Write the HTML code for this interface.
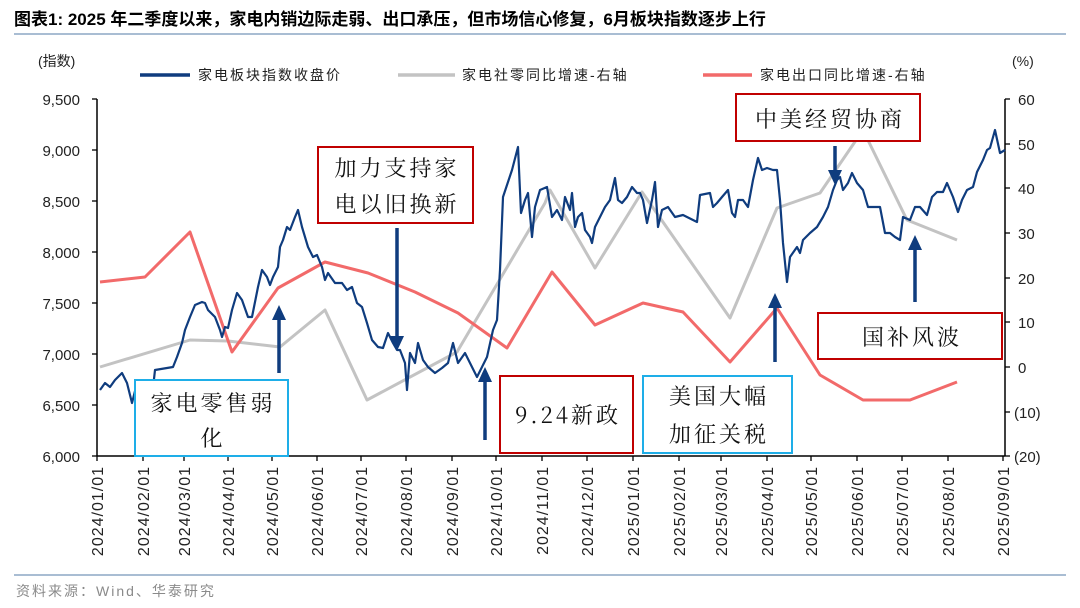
<!DOCTYPE html>
<html><head><meta charset="utf-8"><style>
body{margin:0;background:#fff;}
svg{display:block;font-family:"Liberation Sans","Noto Sans CJK SC",sans-serif;}
.s{font-family:"Noto Serif CJK SC","Noto Sans CJK SC",serif;}
</style></head><body>
<svg width="1080" height="608" viewBox="0 0 1080 608" xmlns="http://www.w3.org/2000/svg">
<text x="14" y="25" font-size="17" font-weight="bold" fill="#000">图表1:  2025 年二季度以来，家电内销边际走弱、出口承压，但市场信心修复，6月板块指数逐步上行</text>
<line x1="14" y1="34" x2="1066" y2="34" stroke="#a9bdd3" stroke-width="2"/>
<text x="38" y="66" font-size="14" fill="#222">(指数)</text>
<text x="1012" y="66" font-size="14" fill="#222">(%)</text>
<line x1="140" y1="75" x2="190" y2="75" stroke="#0f3c7e" stroke-width="3.5"/>
<text x="198" y="80" font-size="14" fill="#222" letter-spacing="2">家电板块指数收盘价</text>
<line x1="398" y1="75" x2="455" y2="75" stroke="#c3c3c3" stroke-width="3.5"/>
<text x="462" y="80" font-size="14" fill="#222" letter-spacing="2">家电社零同比增速-右轴</text>
<line x1="703" y1="75" x2="752" y2="75" stroke="#f26a6a" stroke-width="3.5"/>
<text x="760" y="80" font-size="14" fill="#222" letter-spacing="2">家电出口同比增速-右轴</text>
<g stroke="#000" stroke-width="1.5" fill="none">
<line x1="97" y1="99" x2="97" y2="456"/>
<line x1="97" y1="456" x2="1005" y2="456"/>
<line x1="1005" y1="99" x2="1005" y2="456"/>
</g>
<g stroke="#000" stroke-width="1.3">
<line x1="92" y1="99" x2="97" y2="99"/><line x1="92" y1="150" x2="97" y2="150"/><line x1="92" y1="201" x2="97" y2="201"/><line x1="92" y1="252" x2="97" y2="252"/><line x1="92" y1="303" x2="97" y2="303"/><line x1="92" y1="354" x2="97" y2="354"/><line x1="92" y1="405" x2="97" y2="405"/><line x1="92" y1="456" x2="97" y2="456"/>
<line x1="1005" y1="99" x2="1010" y2="99"/><line x1="1005" y1="144" x2="1010" y2="144"/><line x1="1005" y1="188" x2="1010" y2="188"/><line x1="1005" y1="233" x2="1010" y2="233"/><line x1="1005" y1="278" x2="1010" y2="278"/><line x1="1005" y1="322" x2="1010" y2="322"/><line x1="1005" y1="367" x2="1010" y2="367"/><line x1="1005" y1="412" x2="1010" y2="412"/><line x1="1005" y1="456" x2="1010" y2="456"/>
</g>
<g font-size="15" fill="#222" text-anchor="end">
<text x="80" y="105">9,500</text><text x="80" y="156">9,000</text><text x="80" y="207">8,500</text><text x="80" y="258">8,000</text><text x="80" y="309">7,500</text><text x="80" y="360">7,000</text><text x="80" y="411">6,500</text><text x="80" y="462">6,000</text>
</g>
<g font-size="15" fill="#222">
<text x="1018" y="105">60</text><text x="1018" y="150">50</text><text x="1018" y="194">40</text><text x="1018" y="239">30</text><text x="1018" y="284">20</text><text x="1018" y="328">10</text><text x="1018" y="373">0</text><text x="1014" y="418">(10)</text><text x="1014" y="462">(20)</text>
</g>
<g font-size="16" fill="#222" text-anchor="end" letter-spacing="1">
<g transform="translate(103,466) rotate(-90)"><text>2024/01/01</text></g>
<g transform="translate(149,466) rotate(-90)"><text>2024/02/01</text></g>
<g transform="translate(190,466) rotate(-90)"><text>2024/03/01</text></g>
<g transform="translate(234,466) rotate(-90)"><text>2024/04/01</text></g>
<g transform="translate(278,466) rotate(-90)"><text>2024/05/01</text></g>
<g transform="translate(323,466) rotate(-90)"><text>2024/06/01</text></g>
<g transform="translate(367,466) rotate(-90)"><text>2024/07/01</text></g>
<g transform="translate(412,466) rotate(-90)"><text>2024/08/01</text></g>
<g transform="translate(458,466) rotate(-90)"><text>2024/09/01</text></g>
<g transform="translate(502,466) rotate(-90)"><text>2024/10/01</text></g>
<g transform="translate(548,466) rotate(-90)"><text>2024/11/01</text></g>
<g transform="translate(593,466) rotate(-90)"><text>2024/12/01</text></g>
<g transform="translate(639,466) rotate(-90)"><text>2025/01/01</text></g>
<g transform="translate(685,466) rotate(-90)"><text>2025/02/01</text></g>
<g transform="translate(727,466) rotate(-90)"><text>2025/03/01</text></g>
<g transform="translate(773,466) rotate(-90)"><text>2025/04/01</text></g>
<g transform="translate(817,466) rotate(-90)"><text>2025/05/01</text></g>
<g transform="translate(863,466) rotate(-90)"><text>2025/06/01</text></g>
<g transform="translate(908,466) rotate(-90)"><text>2025/07/01</text></g>
<g transform="translate(954,466) rotate(-90)"><text>2025/08/01</text></g>
<g transform="translate(1009,466) rotate(-90)"><text>2025/09/01</text></g>
</g>
<g stroke="#000" stroke-width="1.3">
<line x1="97" y1="456" x2="97" y2="461"/><line x1="143" y1="456" x2="143" y2="461"/><line x1="184" y1="456" x2="184" y2="461"/><line x1="228" y1="456" x2="228" y2="461"/><line x1="272" y1="456" x2="272" y2="461"/><line x1="317" y1="456" x2="317" y2="461"/><line x1="361" y1="456" x2="361" y2="461"/><line x1="406" y1="456" x2="406" y2="461"/><line x1="452" y1="456" x2="452" y2="461"/><line x1="496" y1="456" x2="496" y2="461"/><line x1="542" y1="456" x2="542" y2="461"/><line x1="587" y1="456" x2="587" y2="461"/><line x1="633" y1="456" x2="633" y2="461"/><line x1="679" y1="456" x2="679" y2="461"/><line x1="721" y1="456" x2="721" y2="461"/><line x1="767" y1="456" x2="767" y2="461"/><line x1="811" y1="456" x2="811" y2="461"/><line x1="857" y1="456" x2="857" y2="461"/><line x1="902" y1="456" x2="902" y2="461"/><line x1="948" y1="456" x2="948" y2="461"/><line x1="1003" y1="456" x2="1003" y2="461"/>
</g>
<polyline fill="none" stroke="#c3c3c3" stroke-width="3" stroke-linejoin="round" points="100,367 190,340 228,341 280,347 325,310 367,400 457,352 545,203 550,190 595,268 642,192 730,318 777,208 820,193 863,130 907,220 957,240"/>
<polyline fill="none" stroke="#f26a6a" stroke-width="3" stroke-linejoin="round" points="100,282 145,277 190,232 232,352 278,288 325,262 368,273 415,292 458,313 507,348 552,272 595,325 643,303 683,312 730,362 777,308 820,375 863,400 910,400 957,382"/>
<polyline fill="none" stroke="#0f3c7e" stroke-width="2.2" stroke-linejoin="round" points="100,390 105,383 110,387 115,380 122,373 127,383 132,403 137,383 142,383 145,387 152,397 155,370 173,367 177,357 182,343 185,330 190,317 195,305 202,302 205,303 208,310 215,317 220,330 222,337 225,327 228,328 232,310 237,293 242,300 248,317 252,317 258,287 262,270 267,277 270,285 273,277 278,267 280,247 283,240 287,227 290,230 295,217 298,210 302,227 308,247 313,257 317,255 322,267 325,280 328,273 335,283 342,283 347,290 352,287 357,303 362,307 367,323 372,340 378,347 383,348 388,333 393,343 397,350 400,350 405,363 407,390 410,353 415,363 418,343 423,360 428,367 435,373 442,368 448,363 453,343 458,363 465,353 470,363 477,377 482,367 487,357 493,330 497,320 500,270 503,197 512,170 518,147 521,213 525,200 528,193 532,237 535,207 540,190 547,187 552,217 557,210 562,220 565,197 570,210 572,193 575,227 578,217 582,213 585,230 590,237 592,243 595,227 602,213 605,207 610,200 615,178 618,200 622,203 627,197 632,187 637,193 640,193 643,200 647,223 652,200 655,182 658,227 662,210 668,207 675,217 683,215 697,222 700,195 710,193 713,207 717,203 722,197 728,190 732,213 735,217 738,200 743,200 748,207 753,180 758,158 762,170 767,168 773,170 777,170 780,200 783,243 787,282 790,257 797,247 800,253 803,240 810,233 817,227 823,217 828,207 833,190 837,180 840,177 843,190 848,183 852,173 857,183 863,190 868,207 873,207 880,207 885,233 890,233 895,237 900,240 903,217 910,220 915,207 920,207 927,215 932,197 937,192 943,192 947,183 953,197 958,212 962,200 967,190 973,187 977,172 983,160 987,150 990,148 995,130 1000,153 1005,150"/>
<g fill="#fff" stroke-width="2">
<rect x="135" y="380" width="153" height="76" stroke="#1eaee8"/>
<rect x="318" y="147" width="155" height="76" stroke="#c00000"/>
<rect x="500" y="376" width="133" height="77" stroke="#c00000"/>
<rect x="643" y="376" width="149" height="77" stroke="#1eaee8"/>
<rect x="736" y="94" width="184" height="47" stroke="#c00000"/>
<rect x="818" y="313" width="184" height="46" stroke="#c00000"/>
</g>
<g class="s" font-size="22" fill="#111" text-anchor="middle" letter-spacing="3">
<text x="213" y="411">家电零售弱</text><text x="213" y="446">化</text>
<text x="397" y="176">加力支持家</text><text x="397" y="212">电以旧换新</text>
<text x="568" y="423">9.24新政</text>
<text x="719" y="404">美国大幅</text><text x="719" y="442">加征关税</text>
<text x="830" y="127">中美经贸协商</text>
<text x="912" y="345">国补风波</text>
</g>
<g stroke="#0f3c7e" stroke-width="3.5" fill="#0f3c7e">
<line x1="279" y1="373" x2="279" y2="318"/><polygon points="272,320 286,320 279,305" stroke="none"/>
<line x1="397" y1="228" x2="397" y2="338"/><polygon points="390,336 404,336 397,351" stroke="none"/>
<line x1="485" y1="440" x2="485" y2="380"/><polygon points="478,382 492,382 485,367" stroke="none"/>
<line x1="775" y1="362" x2="775" y2="306"/><polygon points="768,308 782,308 775,293" stroke="none"/>
<line x1="835" y1="146" x2="835" y2="172"/><polygon points="828,170 842,170 835,185" stroke="none"/>
<line x1="915" y1="302" x2="915" y2="248"/><polygon points="908,250 922,250 915,235" stroke="none"/>
</g>
<line x1="14" y1="575" x2="1066" y2="575" stroke="#a9bdd3" stroke-width="2"/>
<text x="16" y="596" font-size="14" fill="#8a8a8a" letter-spacing="2">资料来源：Wind、华泰研究</text>
</svg>
</body></html>
